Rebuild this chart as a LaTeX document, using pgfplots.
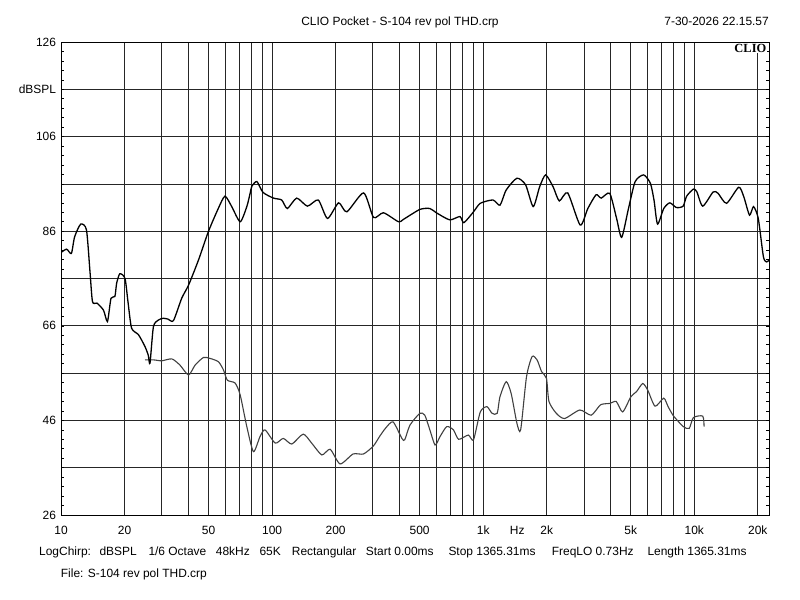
\documentclass[border=0pt]{standalone}
\usepackage{pgfplots}
\pgfplotsset{compat=1.18}
\usepackage{fontspec}
\setmainfont{Liberation Sans}
\newfontfamily\clioserif{Liberation Serif}
\pgfplotstableread{
f db
10 81.5
10.64 82.2
11.2 81.3
11.6 84.8
12.4 87.5
13.2 86.3
13.7 77.8
14.1 71.1
14.8 70.8
15.9 69.3
16.6 66.9
17.25 71.8
18.0 72.2
18.35 75.0
19.0 77.0
20.1 76.0
20.8 70.8
21.6 65.5
23.3 64.1
25.0 61.6
25.9 59.8
26.4 58.1
27.4 65.8
28.9 67.2
30.5 67.6
32.2 67.4
34.1 67.1
37.3 71.8
40.2 74.6
44.8 79.9
49.9 85.9
55.6 90.8
59.8 93.4
64.4 91.2
70.6 88.0
75.9 91.2
78.7 94.0
80.2 95.5
84.7 96.5
90.6 94.2
101.5 93.0
111 92.6
118.1 90.8
130.8 93.0
147 91.3
165.5 92.6
183 88.7
206.6 92.0
226 90.1
271.5 94.1
302.5 88.9
337 89.9
397 88.0
419 88.5
501 90.6
559 90.8
600 89.9
694 88.4
776 89.1
810 87.8
900 90.1
969 91.9
1113 92.6
1201 91.5
1285 94.7
1445 97.2
1589 95.8
1726 91.2
1852 95.4
1976 97.9
2144 95.4
2294 92.4
2515 94.1
2881 87.3
3132 90.8
3426 93.7
3625 93.0
3977 94.0
4286 88.7
4530 84.7
4880 90.8
5250 96.5
5760 97.9
6200 96.1
6450 92.5
6700 87.5
7170 90.8
7660 92.0
8230 91.0
8860 91.3
9200 93.4
9910 94.9
10290 94.3
10970 91.3
12290 94.3
12970 94.0
14220 91.9
16240 95.3
17160 93.3
18270 89.4
19090 91.2
20100 88.7
21260 80.6
22020 79.5
22600 79.9
}\uppercurve
\pgfplotstableread{
f db
25.0 58.8
27.4 58.8
30.0 58.6
33.5 59.0
36.6 57.7
40.2 55.6
43.2 57.7
47.3 59.3
50.9 59.1
55.7 58.4
58.8 56.7
61.4 54.5
66.8 53.9
70.6 51.4
75.9 44.7
81.6 39.4
87.7 42.6
92.6 44.0
103.5 41.2
113 42.2
124 41.0
140.4 43.1
154 41.2
172 38.7
188.5 39.9
210 36.8
242 38.9
271 38.9
302 40.6
323 42.6
344 44.3
374 45.7
412 42.2
425 41.9
450 45.0
501 47.5
529 47.1
559 44.0
592 40.8
625 42.6
672 44.7
723 44.0
765 42.0
850 42.9
900 41.9
969 47.8
1042 48.9
1102 47.5
1165 47.5
1201 51.0
1285 54.2
1357 51.7
1445 45.4
1505 44.0
1604 55.2
1705 59.5
1800 58.8
1892 56.3
1995 54.9
2050 50.0
2220 47.5
2430 46.4
2870 48.2
3250 47.1
3600 49.3
3990 49.6
4270 50.0
4580 47.8
5010 51.0
5330 52.1
5700 53.8
6020 52.4
6520 49.0
7170 50.7
7520 48.9
7990 46.9
8870 44.7
9460 44.3
9910 46.6
10970 46.9
11130 44.7
}\lowercurve
\begin{document}
\begin{tikzpicture}
\fill[white] (0bp,0bp) rectangle (800bp,-600bp);
\path[use as bounding box] (0bp,0bp) rectangle (800bp,-600bp);
\begin{axis}[
  at={(61bp,-515bp)}, anchor=south west,
  width=708bp, height=473bp, scale only axis,
  xmode=log, xmin=10, xmax=22600, ymin=26, ymax=126,
  xtick={10,20,50,100,200,500,1000,1450,2000,5000,10000,20000},
  xticklabels={10,20,50,100,200,500,1k,Hz,2k,5k,10k,20k},
  minor xtick={20,30,40,50,60,70,80,90,100,200,300,400,500,600,700,800,900,1000,2000,3000,4000,5000,6000,7000,8000,9000,10000,20000},
  xminorgrids,
  ytick={26,36,...,126},
  yticklabels={26,,46,,66,,86,,106,dBSPL,126},
  minor ytick={28,30,...,124},
  ymajorgrids,
  tick align=inside,
  major tick length=0pt,
  minor tick length=3bp,
  minor x tick style={draw=none},
  minor y tick style={black, line width=0.6bp},
  major grid style={black!85, line width=0.7bp},
  minor grid style={black!85, line width=0.7bp},
  axis line style={black, line width=1bp},
  ticklabel style={font=\fontsize{12}{14}\selectfont},
  xticklabel style={yshift=-7.5bp},
  yticklabel style={xshift=-1.5bp},
]
\addplot[black!75, line width=1.1bp, smooth, tension=0.4] table[x=f,y=db] {\lowercurve};
\addplot[black, line width=1.3bp, smooth, tension=0.4] table[x=f,y=db] {\uppercurve};
\end{axis}
\begin{scope}[every node/.style={inner sep=0pt, font=\fontsize{12}{14}\selectfont}]
\node[anchor=base] at (400bp,-25.5bp) {CLIO Pocket - S-104 rev pol THD.crp};
\node[anchor=base east] at (769bp,-25.5bp) {7-30-2026 22.15.57};
\node[anchor=base east, fill=white, inner sep=1bp, font=\clioserif\bfseries\fontsize{12.5}{14}\selectfont] at (767.5bp,-52.3bp) {CLIO};
\node[anchor=base west] at (39bp,-555bp) {LogChirp:};
\node[anchor=base west] at (99.3bp,-555bp) {dBSPL};
\node[anchor=base west] at (148.3bp,-555bp) {1/6 Octave};
\node[anchor=base west] at (215.7bp,-555bp) {48kHz};
\node[anchor=base west] at (259.3bp,-555bp) {65K};
\node[anchor=base west] at (291.7bp,-555bp) {Rectangular};
\node[anchor=base west] at (365.7bp,-555bp) {Start 0.00ms};
\node[anchor=base west] at (448.3bp,-555bp) {Stop 1365.31ms};
\node[anchor=base west] at (551.7bp,-555bp) {FreqLO 0.73Hz};
\node[anchor=base west] at (647.3bp,-555bp) {Length 1365.31ms};
\node[anchor=base west] at (60.7bp,-577bp) {File: S-104 rev pol THD.crp};
\end{scope}
\end{tikzpicture}
\end{document}
